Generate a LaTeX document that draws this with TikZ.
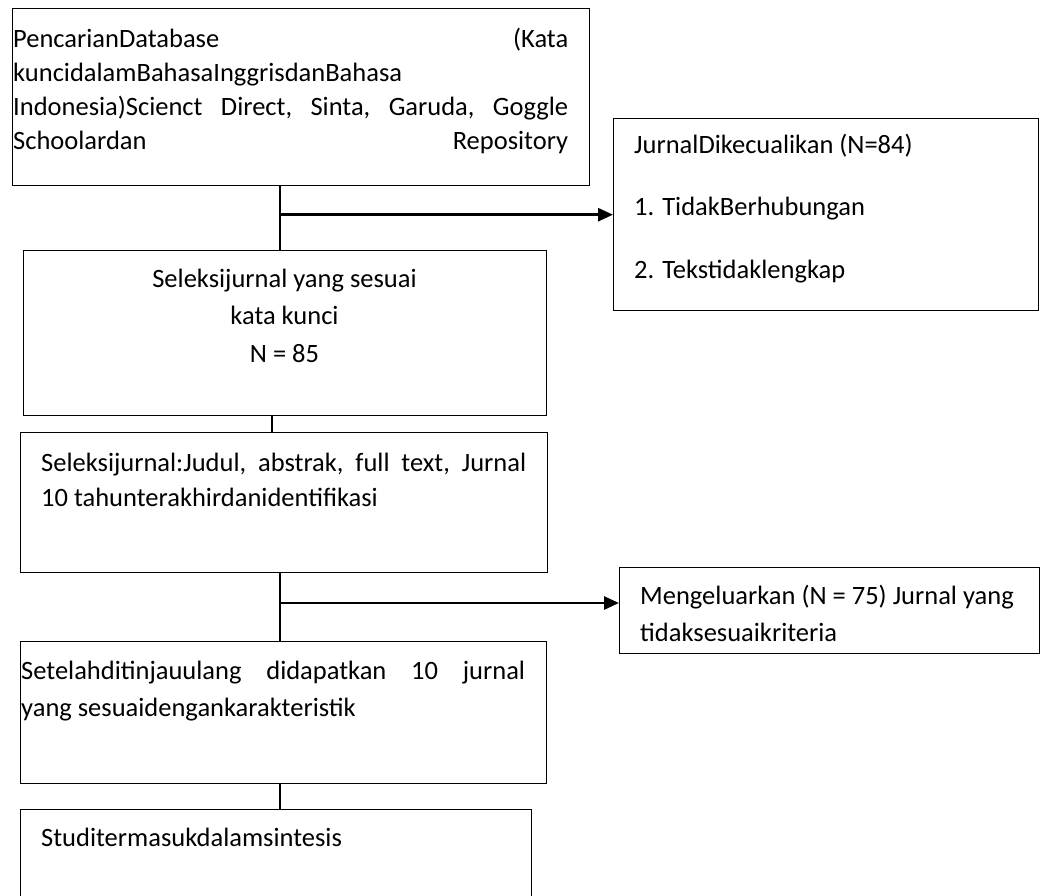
\documentclass[tikz,border=0pt]{standalone}
\usepackage{fontspec}
\setmainfont{Carlito}
\usetikzlibrary{arrows.meta}

\begin{document}
\begin{tikzpicture}[x=1pt, y=-1pt,
    box/.style={draw, line width=1.4pt, inner sep=0pt, anchor=north west},
    txt/.style={inner sep=0pt, anchor=base west, align=flush left, font=\fontsize{26.5}{#1}\selectfont},
    txt/.default=35,
    link/.style={line width=1.5pt},
    push/.style={line width=2.7pt, -{Triangle[length=15pt,width=13pt]}}]

    % Page frame
    \clip (0,0) rectangle (1048,895);

    % Boxes of the flow
    \node[box, minimum width=577pt, minimum height=177pt] (search) at (12,8) {};
    \node[box, minimum width=425pt, minimum height=192pt] (excluded) at (613,118) {};
    \node[box, minimum width=523pt, minimum height=165pt] (screen) at (23,250) {};
    \node[box, minimum width=527pt, minimum height=140pt] (selection) at (20,432) {};
    \node[box, minimum width=420pt, minimum height=86pt] (removed) at (619,567) {};
    \node[box, minimum width=526pt, minimum height=142pt] (review) at (20,641) {};
    \node[box, minimum width=511pt, minimum height=110pt] (included) at (20,809) {};

    % Texts in the boxes
    \node[txt=34, text width=555pt] (searchtxt) at (13,47)
        {PencarianDatabase\hfill(Kata\\kuncidalamBahasaInggrisdanBahasa\\Indonesia)Scienct\hfill Direct,\hfill Sinta,\hfill Garuda,\hfill Goggle\\Schoolardan\hfill Repository};
    \node[txt=62.5, text width=390pt] (excludedtxt) at (634,153)
        {JurnalDikecualikan (N=84)\\1. TidakBerhubungan\\2. Tekstidaklengkap};
    \node[txt=37.5, text width=523pt, align=flush center, anchor=base] (screentxt) at (284.5,287)
        {Seleksijurnal yang sesuai\\kata kunci\\N = 85};
    \node[txt, text width=485pt] (selectiontxt) at (41,471)
        {Seleksijurnal:Judul,\hfill abstrak,\hfill full\hfill text,\hfill Jurnal\\10 tahunterakhirdanidentifikasi};
    \node[txt=37, text width=395pt] (removedtxt) at (640,604)
        {Mengeluarkan (N = 75) Jurnal yang\\tidaksesuaikriteria};
    \node[txt=37, text width=504pt] (reviewtxt) at (21,679)
        {Setelahditinjauulang\hfill didapatkan\hfill 10\hfill jurnal\\yang sesuaidengankarakteristik};
    \node[txt, text width=480pt] (includedtxt) at (41,846) {Studitermasukdalamsintesis};

    % Connectors
    \coordinate (trunk) at (280,0);
    \coordinate (joint) at (272,0);
    \coordinate (split) at (280,603);
    \draw[link] (search.south -| trunk) -- (screen.north -| trunk);
    \draw[push] (excluded.west -| trunk) -- (excluded.west);
    \draw[link] (screen.south -| joint) -- (selection.north -| joint);
    \draw[link] (selection.south -| trunk) -- (review.north -| trunk);
    \draw[push] (split) -- (split -| removed.west);
    \draw[link] (review.south -| trunk) -- (included.north -| trunk);
\end{tikzpicture}
\end{document}
